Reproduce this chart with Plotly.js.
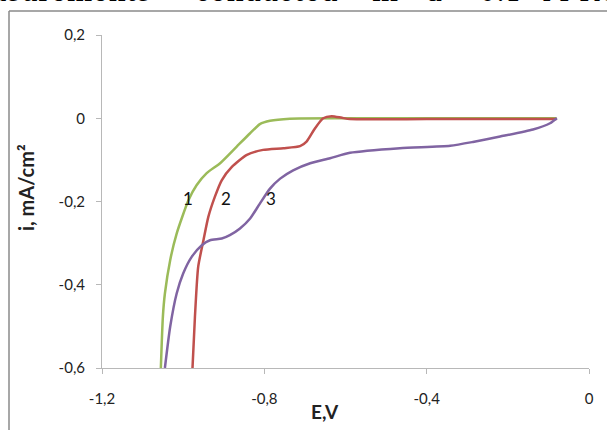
<!DOCTYPE html>
<html>
<head>
<meta charset="utf-8">
<script src="https://cdn.plot.ly/plotly-3.0.1.min.js"></script>
<style>
html,body{margin:0;padding:0;background:#fff;}
#chart{width:607px;height:430px;}
</style>
</head>
<body>
<div id="chart"></div>
<script>
// Curve 1 (green)
const E1 = [-1.055, -1.050, -1.045, -1.032, -1.016, -0.987, -0.967, -0.942, -0.909, -0.868, -0.835, -0.811, -0.786, -0.737, -0.60, -0.40, -0.20, -0.08];
const I1 = [-0.600, -0.477, -0.421, -0.341, -0.277, -0.197, -0.161, -0.132, -0.108, -0.068, -0.036, -0.014, -0.006, -0.001, 0.000, 0.000, 0.000, 0.000];
// Curve 2 (red)
const E2 = [-0.977, -0.971, -0.963, -0.950, -0.938, -0.922, -0.905, -0.880, -0.843, -0.803, -0.753, -0.712, -0.696, -0.675, -0.655, -0.634, -0.609, -0.589, -0.40, -0.20, -0.08];
const I2 = [-0.600, -0.477, -0.357, -0.293, -0.237, -0.189, -0.149, -0.117, -0.088, -0.076, -0.072, -0.067, -0.056, -0.024, 0.000, 0.005, 0.001, -0.002, -0.002, -0.002, -0.002];
// Curve 3 (purple)
const E3 = [-1.045, -1.032, -1.016, -1.000, -0.979, -0.954, -0.934, -0.905, -0.885, -0.860, -0.835, -0.811, -0.786, -0.761, -0.729, -0.687, -0.638, -0.589, -0.466, -0.342, -0.286, -0.219, -0.138, -0.096, -0.079];
const I3 = [-0.600, -0.501, -0.421, -0.373, -0.333, -0.305, -0.293, -0.289, -0.281, -0.265, -0.241, -0.205, -0.169, -0.145, -0.125, -0.108, -0.096, -0.083, -0.072, -0.066, -0.057, -0.044, -0.027, -0.012, 0.000];

// Axis ticks
const xTickVals = [-1.2, -0.8, -0.4, 0];
const xTickText = ["-1,2", "-0,8", "-0,4", "0"];
const yTickVals = [0.2, 0, -0.2, -0.4, -0.6];
const yTickText = ["0,2", "0", "-0,2", "-0,4", "-0,6"];

// Curve labels
const labelText = ["1", "2", "3"];
const labelE = [-0.988, -0.894, -0.784];
const labelI = [-0.193, -0.193, -0.193];

// Cropped page text above the chart
const topWords = ["measurements", "conducted", "in", "a", "0.1", "M", "KC"];
const topWordPx = [153, 193, 370, 424, 477, 540, 577];

const colors = ["#9BBB59", "#C0504D", "#8064A2"];
const L = 102, R = 18, T = 35, B = 62, W = 607, H = 430;
const pw = W - L - R, ph = H - T - B;
const px2x = p => (p - L) / pw;
const py2y = p => (H - B - p) / ph;

const traces = [[E1, I1], [E2, I2], [E3, I3]].map((d, k) => ({
  x: d[0], y: d[1], type: 'scatter', mode: 'lines',
  line: {color: colors[k], width: 2.5, shape: 'spline', smoothing: 0.6},
  hoverinfo: 'skip', showlegend: false
}));

const tickFont = {family: 'Lato, "Open Sans", sans-serif', size: 15, color: '#222'};

const annotations = [];
labelText.forEach((t, k) => annotations.push({
  x: labelE[k], y: labelI[k], xref: 'x', yref: 'y', text: t, showarrow: false,
  xanchor: 'center', yanchor: 'middle',
  font: {family: 'Lato, sans-serif', size: 17, color: '#111'}
}));
annotations.push({
  x: px2x(26), y: py2y(188), xref: 'paper', yref: 'paper', text: 'i, mA/cm²',
  showarrow: false, textangle: -90, xanchor: 'center', yanchor: 'middle',
  font: {family: 'Lato, sans-serif', size: 20, color: '#222', weight: 'bold'}
});
annotations.push({
  x: px2x(325), y: py2y(411), xref: 'paper', yref: 'paper', text: 'E,V',
  showarrow: false, xanchor: 'center', yanchor: 'middle',
  font: {family: 'Lato, sans-serif', size: 19, color: '#222', weight: 'bold'}
});
topWords.forEach((w, k) => annotations.push({
  x: px2x(topWordPx[k]), y: py2y(-8), xref: 'paper', yref: 'paper', text: w,
  showarrow: false, xanchor: k === 0 ? 'right' : 'left', yanchor: 'middle',
  font: {family: '"DejaVu Serif", serif', size: 27, color: '#000'}
}));

const shapes = [
  {type: 'line', xref: 'paper', yref: 'paper', x0: px2x(9), x1: px2x(9), y0: py2y(11), y1: py2y(440), line: {color: '#8a8a8a', width: 1.5}},
  {type: 'line', xref: 'paper', yref: 'paper', x0: px2x(9), x1: px2x(620), y0: py2y(11), y1: py2y(11), line: {color: '#8a8a8a', width: 1.5}}
];

const layout = {
  width: W, height: H,
  margin: {l: L, r: R, t: T, b: B, pad: 0},
  paper_bgcolor: '#fff', plot_bgcolor: '#fff',
  showlegend: false,
  xaxis: {
    range: [-1.2, 0], tickvals: xTickVals, ticktext: xTickText,
    showgrid: false, zeroline: false, showline: true, linecolor: '#b8b8b8', linewidth: 1,
    ticks: 'outside', ticklen: 5, tickcolor: '#b8b8b8', tickfont: tickFont,
    ticklabelstandoff: 12, fixedrange: true
  },
  yaxis: {
    range: [-0.6, 0.2], tickvals: yTickVals, ticktext: yTickText,
    showgrid: false, zeroline: false, showline: true, linecolor: '#b8b8b8', linewidth: 1,
    ticks: 'outside', ticklen: 5, tickcolor: '#b8b8b8', tickfont: tickFont,
    ticklabelstandoff: 8, fixedrange: true
  },
  annotations: annotations,
  shapes: shapes
};

Plotly.newPlot('chart', traces, layout, {displayModeBar: false, staticPlot: true});
</script>
</body>
</html>
